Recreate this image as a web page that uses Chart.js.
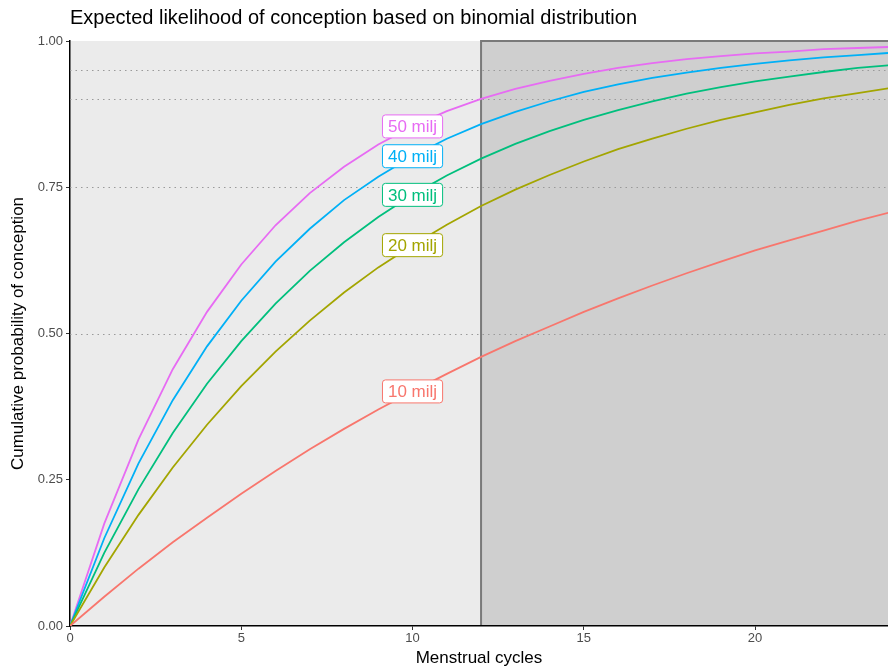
<!DOCTYPE html>
<html>
<head>
<meta charset="utf-8">
<script src="https://cdn.jsdelivr.net/npm/chart.js@4/dist/chart.umd.min.js"></script>
<style>
  body { margin: 0; background: #fff; }
  #wrap { width: 888px; height: 670px; position: relative; }
</style>
</head>
<body>
<div id="wrap"><canvas id="canvas"></canvas></div>
<script>
// cycles 0..24
var cycles = [0,1,2,3,4,5,6,7,8,9,10,11,12,13,14,15,16,17,18,19,20,21,22,23,24];

// cumulative probability per sperm count group
var milj10 = [0, .050, .098, .143, .185, .226, .265, .302, .337, .370, .401, .431, .460, .487, .512, .537, .560, .582, .603, .623, .642, .659, .676, .693, .708];
var milj20 = [0, .100, .190, .271, .344, .410, .469, .522, .570, .613, .651, .686, .718, .746, .771, .794, .815, .833, .850, .865, .878, .891, .902, .911, .920];
var milj30 = [0, .125, .234, .330, .414, .487, .551, .607, .656, .699, .737, .770, .799, .824, .846, .865, .882, .897, .910, .921, .931, .939, .947, .954, .959];
var milj40 = [0, .150, .278, .386, .478, .556, .623, .679, .728, .768, .803, .833, .858, .879, .897, .913, .926, .937, .946, .954, .961, .967, .972, .976, .980];
var milj50 = [0, .175, .319, .439, .537, .618, .685, .740, .785, .823, .854, .880, .901, .918, .932, .944, .954, .962, .969, .974, .979, .982, .986, .988, .990];

var seriesNames = ["10 milj", "20 milj", "30 milj", "40 milj", "50 milj"];
var seriesData = [milj10, milj20, milj30, milj40, milj50];
var seriesColors = ["#F8766D", "#A3A500", "#00BF7D", "#00B0F6", "#E76BF3"];

var refLines = [0.5, 0.75, 0.9, 0.95];
var shadeFrom = 12;
var labelAt = 10;

var yTicks = [0, 0.25, 0.5, 0.75, 1];
var xTicks = [0, 5, 10, 15, 20];

function toPoints(arr) {
  return arr.map(function(v, i) { return {x: cycles[i], y: v}; });
}

var datasets = seriesNames.map(function(name, i) {
  return {
    label: name,
    data: toPoints(seriesData[i]),
    borderColor: seriesColors[i],
    borderWidth: 1.8,
    pointRadius: 0,
    tension: 0,
    fill: false
  };
});

function roundRect(ctx, x, y, w, h, r) {
  ctx.beginPath();
  ctx.moveTo(x + r, y);
  ctx.lineTo(x + w - r, y);
  ctx.arcTo(x + w, y, x + w, y + r, r);
  ctx.lineTo(x + w, y + h - r);
  ctx.arcTo(x + w, y + h, x + w - r, y + h, r);
  ctx.lineTo(x + r, y + h);
  ctx.arcTo(x, y + h, x, y + h - r, r);
  ctx.lineTo(x, y + r);
  ctx.arcTo(x, y, x + r, y, r);
  ctx.closePath();
}

var decor = {
  id: 'decor',
  beforeDraw: function(chart) {
    var ctx = chart.ctx, a = chart.chartArea, xs = chart.scales.x;
    ctx.save();
    ctx.fillStyle = '#EBEBEB';
    ctx.fillRect(a.left, a.top, a.right - a.left, a.bottom - a.top);
    var sx = xs.getPixelForValue(shadeFrom);
    ctx.fillStyle = '#CFCFCF';
    ctx.fillRect(sx, a.top, a.right - sx, a.bottom - a.top);
    ctx.strokeStyle = '#7A7A7A';
    ctx.lineWidth = 2;
    ctx.beginPath();
    ctx.moveTo(sx, a.bottom);
    ctx.lineTo(sx, a.top);
    ctx.lineTo(a.right + 2, a.top);
    ctx.stroke();
    // titles
    ctx.fillStyle = '#000';
    ctx.font = '20px "Liberation Sans", Arial, sans-serif';
    ctx.textBaseline = 'middle';
    ctx.textAlign = 'left';
    ctx.fillText('Expected likelihood of conception based on binomial distribution', 70, 18);
    ctx.font = '17px "Liberation Sans", Arial, sans-serif';
    ctx.textAlign = 'center';
    ctx.fillText('Menstrual cycles', (a.left + 888) / 2, 658);
    ctx.translate(18, (a.top + a.bottom) / 2);
    ctx.rotate(-Math.PI / 2);
    ctx.fillText('Cumulative probability of conception', 0, 0);
    ctx.restore();
  },
  beforeDatasetsDraw: function(chart) {
    var ctx = chart.ctx, a = chart.chartArea, ys = chart.scales.y;
    ctx.save();
    ctx.strokeStyle = '#9A9A9A';
    ctx.lineWidth = 1.2;
    ctx.setLineDash([1.5, 4]);
    refLines.forEach(function(v) {
      var y = Math.round(ys.getPixelForValue(v)) + 0.5;
      ctx.beginPath();
      ctx.moveTo(a.left, y);
      ctx.lineTo(a.right, y);
      ctx.stroke();
    });
    ctx.restore();
  },
  afterDatasetsDraw: function(chart) {
    var ctx = chart.ctx, xs = chart.scales.x, ys = chart.scales.y;
    ctx.save();
    ctx.font = '17px "Liberation Sans", Arial, sans-serif';
    ctx.textAlign = 'center';
    ctx.textBaseline = 'middle';
    seriesNames.forEach(function(name, i) {
      var px = xs.getPixelForValue(labelAt);
      var py = ys.getPixelForValue(seriesData[i][labelAt]);
      var w = ctx.measureText(name).width + 11;
      var h = 23;
      roundRect(ctx, px - w / 2, py - h / 2, w, h, 3);
      ctx.fillStyle = '#FFFFFF';
      ctx.fill();
      ctx.strokeStyle = seriesColors[i];
      ctx.lineWidth = 1;
      ctx.stroke();
      ctx.fillStyle = seriesColors[i];
      ctx.fillText(name, px, py + 1);
    });
    ctx.restore();
  }
};

var tickFont = { family: '"Liberation Sans", Arial, sans-serif', size: 13 };

new Chart(document.getElementById('canvas'), {
  type: 'line',
  data: { datasets: datasets },
  plugins: [decor],
  options: {
    responsive: true,
    maintainAspectRatio: false,
    animation: false,
    layout: { padding: { top: 41, right: 0, left: 0, bottom: 0 } },
    plugins: { legend: { display: false }, tooltip: { enabled: false } },
    scales: {
      x: {
        type: 'linear',
        min: 0,
        max: 23.88,
        afterBuildTicks: function(s) { s.ticks = xTicks.map(function(v) { return {value: v}; }); },
        afterFit: function(s) { s.height = 44; },
        ticks: { color: '#4D4D4D', font: tickFont, padding: 1, maxRotation: 0,
                 callback: function(v) { return String(v); } },
        grid: { drawOnChartArea: false, tickLength: 4, color: '#333', lineWidth: 1 },
        border: { color: '#000', width: 1.5 }
      },
      y: {
        type: 'linear',
        min: 0,
        max: 1,
        afterBuildTicks: function(s) { s.ticks = yTicks.map(function(v) { return {value: v}; }); },
        afterFit: function(s) { s.width = 70; },
        ticks: { color: '#4D4D4D', font: tickFont, padding: 3,
                 callback: function(v) { return Number(v).toFixed(2); } },
        grid: { drawOnChartArea: false, tickLength: 4, color: '#333', lineWidth: 1 },
        border: { color: '#000', width: 1.5 }
      }
    }
  }
});
</script>
</body>
</html>
